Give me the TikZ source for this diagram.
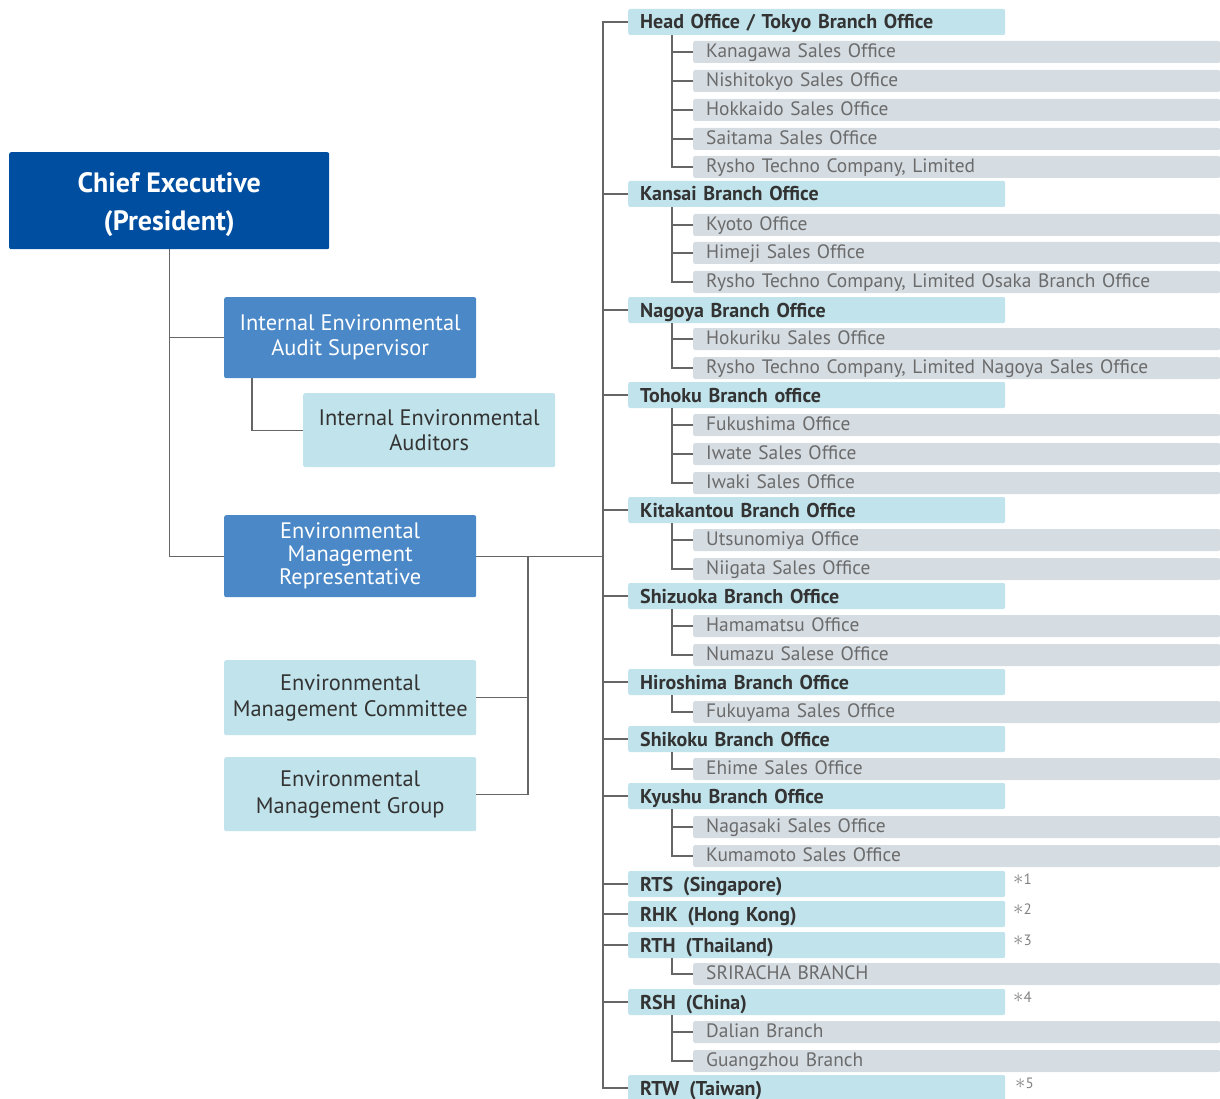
\documentclass[tikz,border=0pt]{standalone}
\usepackage{fontspec}
\setmainfont{PT Sans}
\definecolor{dkblue}{HTML}{004EA0}
\definecolor{mdblue}{HTML}{4A88C7}
\definecolor{ltblue}{HTML}{C1E3EB}
\definecolor{subgray}{HTML}{D5DCE2}
\definecolor{txtdark}{HTML}{333333}
\definecolor{txtsub}{HTML}{6B6B6B}
\definecolor{linecol}{HTML}{666666}
\tikzset{
  conn/.style={draw=linecol, line width=1.4pt},
  branch/.style={fill=ltblue, rounded corners=2pt, anchor=west, text width=353pt, inner xsep=12pt, inner ysep=0pt, minimum height=26pt, text height=20pt, text depth=6pt, align=left, text=txtdark, font=\fontsize{20}{22}\selectfont\bfseries},
  subbox/.style={fill=subgray, rounded corners=2pt, anchor=west, text width=501pt, inner xsep=13pt, inner ysep=0pt, minimum height=22pt, text height=16pt, text depth=5pt, align=left, text=txtsub, font=\fontsize{19.4}{21}\selectfont},
  note/.style={text=txtsub!85, font=\fontsize{15}{16}\selectfont, anchor=west, inner sep=0pt},
  bigbox/.style={rounded corners=2pt, align=center, inner sep=0pt, anchor=north west},
}
\newcommand\brrow[3]{\node[branch] (#1) at (628,#2) {#3}; \draw[conn] (hub) |- (#1.west);}
\newcommand\subrow[4]{\node[subbox] (#1) at (693,#2) {#3}; \draw[conn] ([xshift=44pt]#4.south west) |- (#1.west);}
\newcommand\nast{{\fontsize{20}{20}\selectfont$\ast$}}
\begin{document}
\begin{tikzpicture}[x=1pt,y=-1pt]
\useasboundingbox (0,0) rectangle (1220,1099);
% left part
\node[bigbox, fill=dkblue, text=white, minimum width=320pt, minimum height=97pt, font=\fontsize{28}{38}\selectfont\bfseries] (chief) at (9,152) {\rule{0pt}{27pt}Chief Executive\\(President)};
\node[bigbox, fill=mdblue, text=white, minimum width=252pt, minimum height=81pt, font=\fontsize{22.4}{25}\selectfont] (audit) at (224,297) {Internal Environmental\\Audit Supervisor};
\node[bigbox, fill=ltblue, text=txtdark, minimum width=252pt, minimum height=74pt, font=\fontsize{22.4}{25}\selectfont] (auditors) at (303,393) {Internal Environmental\\Auditors};
\node[bigbox, fill=mdblue, text=white, minimum width=252pt, minimum height=82pt, font=\fontsize{22.4}{23}\selectfont] (emr) at (224,515) {Environmental\\Management\\Representative};
\node[bigbox, fill=ltblue, text=txtdark, minimum width=252pt, minimum height=75pt, font=\fontsize{22.4}{26}\selectfont] (committee) at (224,660) {Environmental\\Management Committee};
\node[bigbox, fill=ltblue, text=txtdark, minimum width=252pt, minimum height=74pt, font=\fontsize{22.4}{27}\selectfont] (group) at (224,757) {Environmental\\Management Group};
\draw[conn] (chief.south) |- (audit.west);
\draw[conn] (chief.south) |- (emr.west);
\draw[conn] ([xshift=28pt]audit.south west) |- (auditors.west);
\coordinate (trunkx) at (603,0);
\coordinate (jx) at (528,0);
\coordinate (hub) at (emr.east -| trunkx);
\coordinate (j) at (emr.east -| jx);
\draw[conn] (emr.east) -- (hub);
\draw[conn] (j) |- (committee.east);
\draw[conn] (j) |- (group.east);
% right part
\brrow{b1}{22}{Head Office / Tokyo Branch Office}
\subrow{s11}{52}{Kanagawa Sales Office}{b1}
\subrow{s12}{81}{Nishitokyo Sales Office}{b1}
\subrow{s13}{110}{Hokkaido Sales Office}{b1}
\subrow{s14}{139}{Saitama Sales Office}{b1}
\subrow{s15}{167}{Rysho Techno Company, Limited}{b1}
\brrow{b2}{194}{Kansai Branch Office}
\subrow{s21}{225}{Kyoto Office}{b2}
\subrow{s22}{253}{Himeji Sales Office}{b2}
\subrow{s23}{282}{Rysho Techno Company, Limited Osaka Branch Office}{b2}
\brrow{b3}{310}{Nagoya Branch Office}
\subrow{s31}{339}{Hokuriku Sales Office}{b3}
\subrow{s32}{368}{Rysho Techno Company, Limited Nagoya Sales Office}{b3}
\brrow{b4}{395}{Tohoku Branch office}
\subrow{s41}{425}{Fukushima Office}{b4}
\subrow{s42}{454}{Iwate Sales Office}{b4}
\subrow{s43}{483}{Iwaki Sales Office}{b4}
\brrow{b5}{510}{Kitakantou Branch Office}
\subrow{s51}{540}{Utsunomiya Office}{b5}
\subrow{s52}{569}{Niigata Sales Office}{b5}
\brrow{b6}{596}{Shizuoka Branch Office}
\subrow{s61}{626}{Hamamatsu Office}{b6}
\subrow{s62}{655}{Numazu Salese Office}{b6}
\brrow{b7}{682}{Hiroshima Branch Office}
\subrow{s71}{712}{Fukuyama Sales Office}{b7}
\brrow{b8}{739}{Shikoku Branch Office}
\subrow{s81}{769}{Ehime Sales Office}{b8}
\brrow{b9}{796}{Kyushu Branch Office}
\subrow{s91}{827}{Nagasaki Sales Office}{b9}
\subrow{s92}{856}{Kumamoto Sales Office}{b9}
\brrow{b10}{884}{RTS\enspace(Singapore)}
\brrow{b11}{914}{RHK\enspace(Hong Kong)}
\brrow{b12}{945}{RTH\enspace(Thailand)}
\subrow{s121}{974}{SRIRACHA BRANCH}{b12}
\brrow{b13}{1002}{RSH\enspace(China)}
\subrow{s131}{1032}{Dalian Branch}{b13}
\subrow{s132}{1061}{Guangzhou Branch}{b13}
\brrow{b14}{1088}{RTW\enspace(Taiwan)}
\node[note] (n1) at (1013,879) {\nast 1};
\node[note] (n2) at (1013,909) {\nast 2};
\node[note] (n3) at (1013,940) {\nast 3};
\node[note] (n4) at (1013,997) {\nast 4};
\node[note] (n5) at (1015,1083) {\nast 5};
\end{tikzpicture}
\end{document}
